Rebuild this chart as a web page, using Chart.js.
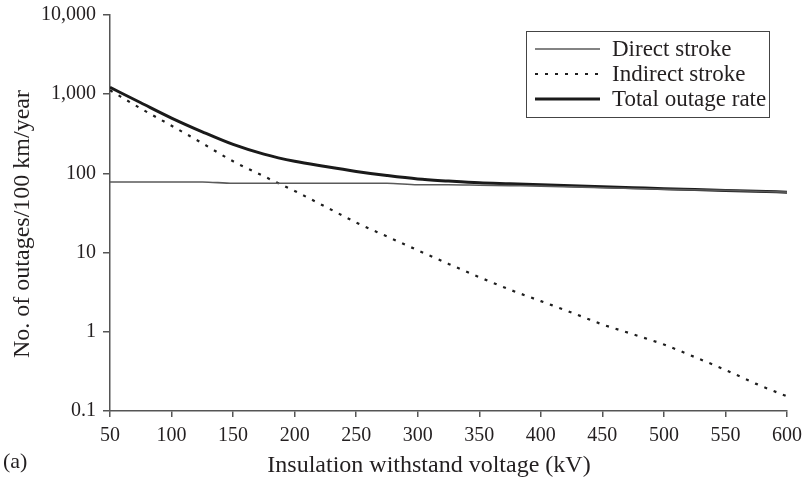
<!DOCTYPE html>
<html>
<head>
<meta charset="utf-8">
<script src="https://cdn.jsdelivr.net/npm/chart.js@4.4.1/dist/chart.umd.min.js"></script>
<style>
  html, body { margin: 0; padding: 0; background: #fff; }
  #wrap { width: 807px; height: 483px; position: relative; }
</style>
</head>
<body>
<div id="wrap"><canvas id="c" width="807" height="483"></canvas></div>
<script>
// ---- data ----
const voltages = [50, 75, 100, 125, 150, 175, 200, 225, 250, 275, 300, 325, 350, 375, 400, 425, 450, 475, 500, 525, 550, 575, 600];
const directStroke = [78, 78, 78, 78, 75, 75, 75, 75, 75, 75, 72, 72, 71, 70, 69, 67.5, 66, 64.5, 63, 62, 61, 59.5, 58];
const indirectStroke = [1120, 660, 400, 240, 142, 92, 60, 38, 24, 16, 10.7, 7.2, 4.9, 3.4, 2.44, 1.75, 1.24, 0.93, 0.69, 0.48, 0.33, 0.22, 0.153];
const totalOutage = [1220, 780, 500, 335, 232, 175, 142, 122, 106, 94, 85, 80, 76, 74, 72, 70, 68, 66, 64, 62.5, 61, 59.5, 58];
const seriesNames = ['Direct stroke', 'Indirect stroke', 'Total outage rate'];
const xTickValues = [50, 100, 150, 200, 250, 300, 350, 400, 450, 500, 550, 600];
const yTickValues = [0.1, 1, 10, 100, 1000, 10000];
const yTickLabels = ['0.1', '1', '10', '100', '1,000', '10,000'];
const xTitle = 'Insulation withstand voltage (kV)';
const yTitle = 'No. of outages/100 km/year';
const panelLabel = '(a)';

const FONT = '"Liberation Serif", "DejaVu Serif", serif';
const AXIS = '#555555';
const TEXT = '#231f20';

function pts(arr) { return voltages.map((v, i) => ({ x: v, y: arr[i] })); }

const decorations = {
  id: 'decorations',
  afterDraw(chart) {
    const ctx = chart.ctx;
    ctx.save();
    // legend box
    const x0 = 526, y0 = 31, w = 243, h = 86;
    ctx.fillStyle = '#ffffff';
    ctx.fillRect(x0, y0, w, h);
    ctx.strokeStyle = '#444444';
    ctx.lineWidth = 1;
    ctx.strokeRect(x0 + 0.5, y0 + 0.5, w, h);
    chart.data.datasets.forEach((ds, i) => {
      const y = y0 + 18 + i * 25;
      ctx.beginPath();
      ctx.setLineDash(ds.borderDash || []);
      ctx.strokeStyle = ds.borderColor;
      ctx.lineWidth = ds.borderWidth;
      ctx.moveTo(x0 + 9, y);
      ctx.lineTo(x0 + 74, y);
      ctx.stroke();
      ctx.setLineDash([]);
      ctx.fillStyle = TEXT;
      ctx.font = '23px ' + FONT;
      ctx.textAlign = 'left';
      ctx.textBaseline = 'middle';
      ctx.fillText(ds.label, x0 + 86, y + 1);
    });
    // axis titles and panel label
    ctx.fillStyle = TEXT;
    ctx.font = '24px ' + FONT;
    ctx.textAlign = 'center';
    ctx.textBaseline = 'middle';
    ctx.fillText(xTitle, 429, 466);
    ctx.save();
    ctx.translate(23, 224);
    ctx.rotate(-Math.PI / 2);
    ctx.fillText(yTitle, 0, 0);
    ctx.restore();
    ctx.font = '22px ' + FONT;
    ctx.textAlign = 'left';
    ctx.fillText(panelLabel, 3, 462);
    ctx.restore();
  }
};

new Chart(document.getElementById('c'), {
  type: 'line',
  data: {
    datasets: [
      { label: seriesNames[0], data: pts(directStroke), borderColor: '#5a5a5a', borderWidth: 1.6, pointRadius: 0, cubicInterpolationMode: 'monotone', fill: false },
      { label: seriesNames[1], data: pts(indirectStroke), borderColor: '#1e1e1e', borderWidth: 2.2, borderDash: [3, 7], pointRadius: 0, cubicInterpolationMode: 'monotone', fill: false },
      { label: seriesNames[2], data: pts(totalOutage), borderColor: '#1a1a1a', borderWidth: 3, pointRadius: 0, cubicInterpolationMode: 'monotone', fill: false }
    ]
  },
  options: {
    responsive: false,
    animation: false,
    devicePixelRatio: 1,
    layout: { padding: { left: 0, right: 20, top: 15, bottom: 0 } },
    plugins: { legend: { display: false }, tooltip: { enabled: false } },
    scales: {
      x: {
        type: 'linear',
        min: 50, max: 600,
        afterBuildTicks(s) { s.ticks = xTickValues.map(v => ({ value: v })); },
        afterFit(s) { s.height = 72; s.paddingRight = 0; s.paddingLeft = 0; },
        grid: { drawOnChartArea: false, drawTicks: true, tickLength: 6, color: AXIS, lineWidth: 1.5 },
        border: { color: AXIS, width: 1.5 },
        ticks: { color: TEXT, font: { family: FONT, size: 20 }, padding: 7, maxRotation: 0, autoSkip: false },
        title: { display: false }
      },
      y: {
        type: 'logarithmic',
        min: 0.1, max: 10000,
        afterBuildTicks(s) { s.ticks = yTickValues.map(v => ({ value: v })); },
        afterFit(s) { s.width = 110; s.paddingTop = 0; s.paddingBottom = 0; },
        grid: { drawOnChartArea: false, drawTicks: true, tickLength: 7, color: AXIS, lineWidth: 1.5 },
        border: { color: AXIS, width: 1.5 },
        ticks: {
          color: TEXT, font: { family: FONT, size: 20 }, padding: 7, autoSkip: false,
          callback(value) { const i = yTickValues.indexOf(value); return i >= 0 ? yTickLabels[i] : ''; }
        },
        title: { display: false }
      }
    }
  },
  plugins: [decorations]
});
</script>
</body>
</html>
